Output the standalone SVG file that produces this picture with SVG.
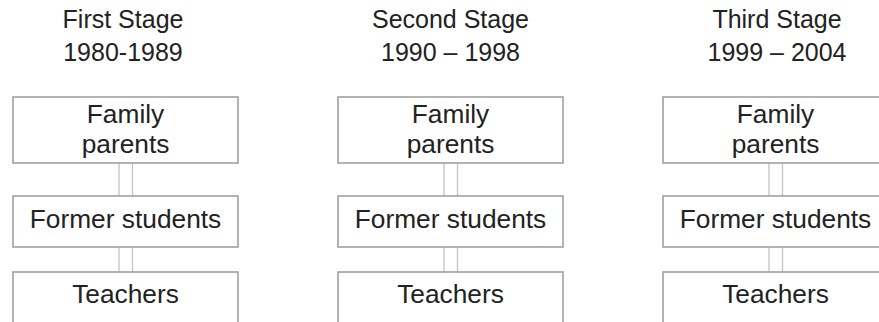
<svg xmlns="http://www.w3.org/2000/svg" width="879" height="322" viewBox="0 0 879 322">
<style>
text{font-family:"Liberation Sans",Arial,sans-serif;font-size:25px;fill:#222;text-anchor:middle}
.box text{font-size:26.3px}
.box rect{fill:#fff;stroke:#a0a0a0;stroke-width:1.6}
.conn{stroke:#c8c8c8;stroke-width:1.4;fill:none}
</style>
<rect width="879" height="322" fill="#fff"/>
<g id="headers">
<text x="123" y="28">First Stage</text>
<text x="123" y="61">1980-1989</text>
<text x="450.5" y="28">Second Stage</text>
<text x="450.5" y="61">1990 – 1998</text>
<text x="777" y="28">Third Stage</text>
<text x="777" y="61">1999 – 2004</text>
</g>
<g id="connectors">
<path class="conn" d="M119 163V196M132.5 163V196M119 247V272M132.5 247V272"/>
<path class="conn" d="M444 163V196M457.5 163V196M444 247V272M457.5 247V272"/>
<path class="conn" d="M769 163V196M782.5 163V196M769 247V272M782.5 247V272"/>
</g>
<g id="s1-family" class="box"><rect x="13" y="97" width="225" height="66"/><text x="125.5" y="123">Family</text><text x="125.5" y="153">parents</text></g>
<g id="s1-former" class="box"><rect x="13" y="196" width="225" height="51"/><text x="125.5" y="228">Former students</text></g>
<g id="s1-teachers" class="box"><rect x="13" y="272" width="225" height="60"/><text x="125.5" y="303">Teachers</text></g>
<g id="s2-family" class="box"><rect x="338" y="97" width="225" height="66"/><text x="450.5" y="123">Family</text><text x="450.5" y="153">parents</text></g>
<g id="s2-former" class="box"><rect x="338" y="196" width="225" height="51"/><text x="450.5" y="228">Former students</text></g>
<g id="s2-teachers" class="box"><rect x="338" y="272" width="225" height="60"/><text x="450.5" y="303">Teachers</text></g>
<g id="s3-family" class="box"><rect x="663" y="97" width="225" height="66"/><text x="775.5" y="123">Family</text><text x="775.5" y="153">parents</text></g>
<g id="s3-former" class="box"><rect x="663" y="196" width="225" height="51"/><text x="775.5" y="228">Former students</text></g>
<g id="s3-teachers" class="box"><rect x="663" y="272" width="225" height="60"/><text x="775.5" y="303">Teachers</text></g>
</svg>
